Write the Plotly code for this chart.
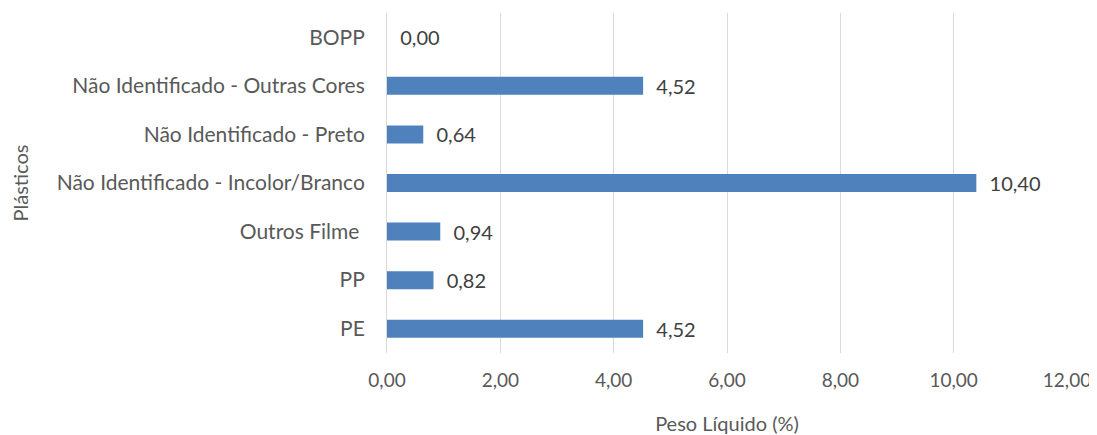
import plotly.graph_objects as go

# categories bottom -> top, as drawn
categorias = ['PE', 'PP', 'Outros Filme ', 'Não Identificado - Incolor/Branco',
              'Não Identificado - Preto', 'Não Identificado - Outras Cores', 'BOPP']
peso_liquido = [4.52, 0.82, 0.94, 10.40, 0.64, 4.52, 0.00]

x_ticks = [0, 2, 4, 6, 8, 10, 12]

cinza = '#595959'

fig = go.Figure(go.Bar(
    x=peso_liquido,
    y=categorias,
    orientation='h',
    marker=dict(color='#4F81BD', line=dict(width=0)),
    texttemplate='\u00a0\u00a0%{x:.2f}',
    textposition='outside',
    constraintext='none',
    textfont=dict(family='Lato', size=20, color='#404040'),
    cliponaxis=False,
))

# page body has an 8px margin, so the figure is sized/offset to fit it
fig.update_layout(
    width=1089,
    height=427,
    separators=',.',
    plot_bgcolor='white',
    paper_bgcolor='white',
    font=dict(family='Lato', size=20, color=cinza),
    bargap=0.63,
    showlegend=False,
    margin=dict(l=379, r=30, t=5, b=82, autoexpand=False),
    xaxis=dict(
        range=[0, 12],
        tickvals=x_ticks,
        tickformat='.2f',
        showgrid=True,
        gridcolor='#D9D9D9',
        gridwidth=1,
        zeroline=False,
        showline=False,
        ticks='',
        ticklabelstandoff=14,
        ticklabeloverflow='allow',
        tickfont=dict(size=19),
        title=dict(text='Peso Líquido (%)', standoff=27, font=dict(size=20, color=cinza)),
        automargin=False,
    ),
    yaxis=dict(
        categoryorder='array',
        categoryarray=categorias,
        showline=True,
        linecolor='#D9D9D9',
        linewidth=1,
        ticks='',
        ticklabelstandoff=17,
        tickfont=dict(size=21),
        title=dict(text='Plásticos', standoff=26, font=dict(size=20, color=cinza)),
        automargin=False,
    ),
)

# no scrollbars in the page
fig.write_html('out.html', post_script="document.documentElement.style.overflow='hidden';"
                                       "document.body.style.overflow='hidden';")
